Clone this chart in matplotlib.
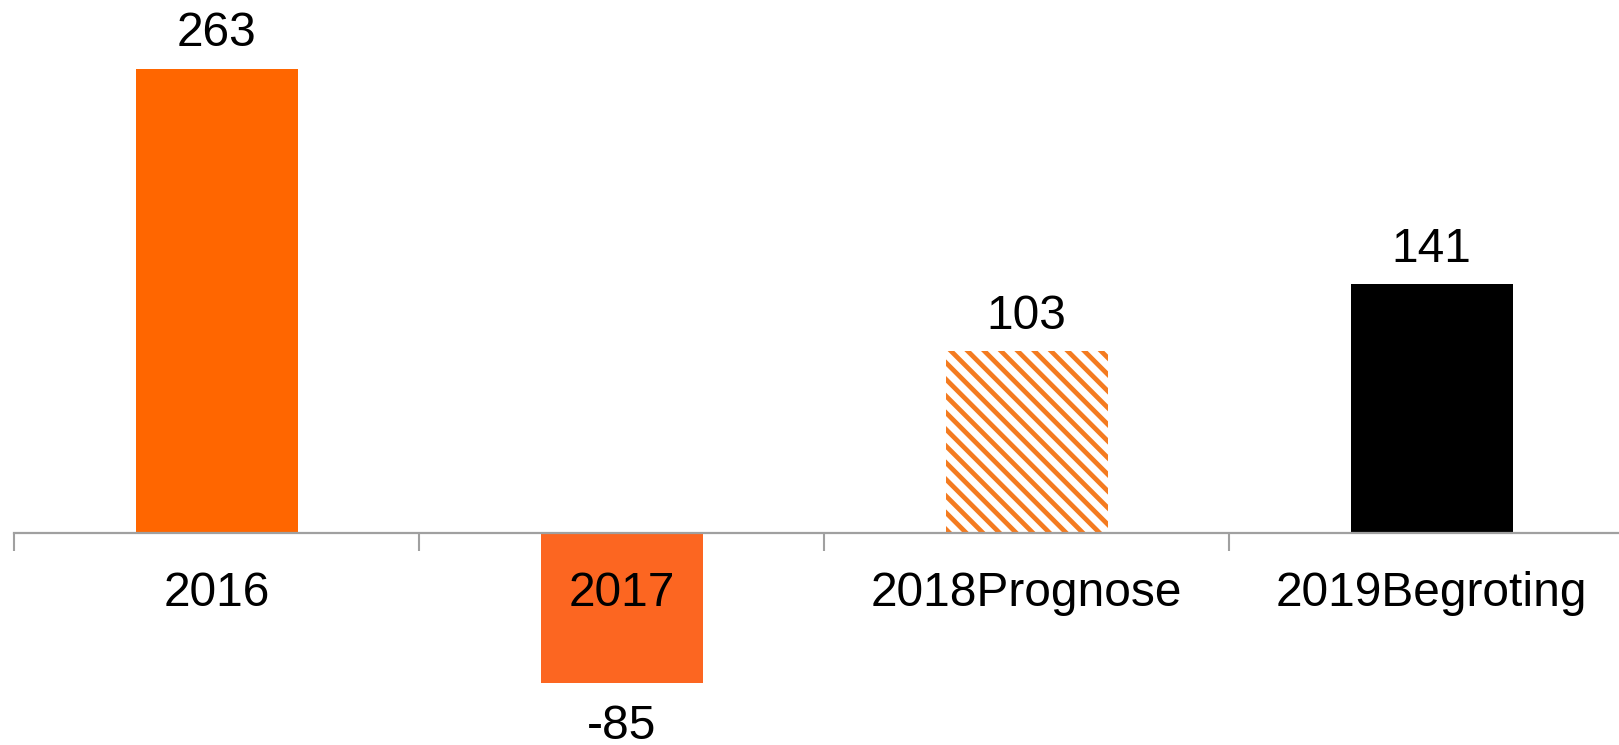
import matplotlib
matplotlib.use("Agg")
import matplotlib.pyplot as plt
import numpy as np

categories = ["2016", "2017", "2018Prognose", "2019Begroting"]
values = [263, -85, 103, 141]
labels = ["263", "-85", "103", "141"]
fill_colors = ["#FF6600", "#FC6621", "none", "#000000"]
hatches = [None, None, "\\\\", None]
edge_colors = ["none", "none", "#F47B20", "none"]

plt.rcParams['font.family'] = ['Liberation Sans', 'DejaVu Sans']
plt.rcParams['hatch.linewidth'] = 3.4

W, H = 1619, 745
fig = plt.figure(figsize=(W / 100, H / 100), dpi=100)
ax = fig.add_axes([14 / W, 0, 1620 / W, 1])

x = np.arange(len(categories))
for xi, v, fc, h, ec in zip(x, values, fill_colors, hatches, edge_colors):
    ax.bar(xi, v, width=0.4, color=fc, hatch=h, edgecolor=ec, linewidth=0, zorder=1)

for xi, v, lab in zip(x, values, labels):
    if v >= 0:
        ax.annotate(lab, (xi, v), xytext=(0, 9), textcoords="offset points",
                    ha="center", va="bottom", fontsize=34.5, color="black")
    else:
        ax.annotate(lab, (xi, v), xytext=(0, -15), textcoords="offset points",
                    ha="center", va="top", fontsize=34.5, color="black")

ax.set_xlim(-0.5, len(categories) - 0.5)
ax.set_ylim(-120.1, 302)

for s in ["top", "right", "left"]:
    ax.spines[s].set_visible(False)
ax.spines["bottom"].set_position(("data", 0))
ax.spines["bottom"].set_color("#A0A0A0")
ax.spines["bottom"].set_linewidth(1.6)
ax.spines["bottom"].set_zorder(3)

ax.set_yticks([])
ax.set_xticks(x)
ax.set_xticklabels(categories, fontsize=34.5, color="black")
ax.tick_params(axis="x", which="major", length=0, pad=27)
ax.set_xticks(np.arange(len(categories)) - 0.5, minor=True)
ax.tick_params(axis="x", which="minor", length=13, width=1.5, color="#A0A0A0")

fig.savefig("out.png", dpi=100)
